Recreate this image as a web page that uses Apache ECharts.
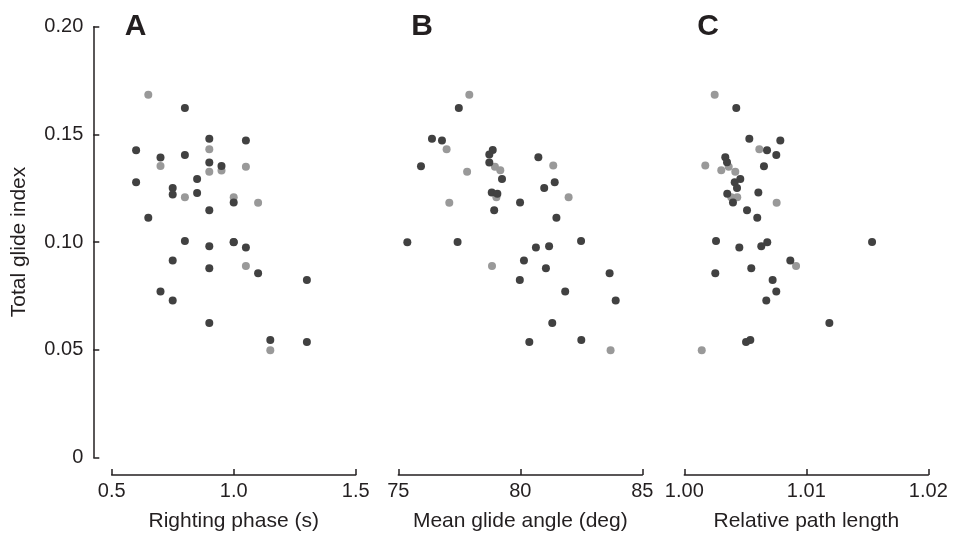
<!DOCTYPE html>
<html>
<head>
<meta charset="utf-8">
<script src="https://cdn.jsdelivr.net/npm/echarts@6/dist/echarts.min.js"></script>
<style>html,body{margin:0;padding:0;background:#fff}#c{width:955px;height:537px}</style>
</head>
<body>
<div id="c"></div>
<script>
// Panel A: Righting phase (s) vs Total glide index
const aDark = [[0.80,0.1622],[0.90,0.1480],[1.05,0.1471],[0.60,0.1426],[0.70,0.1392],[0.80,0.1404],[0.90,0.1369],[0.95,0.1353],[0.60,0.1278],[0.85,0.1293],[0.75,0.1251],[0.75,0.1221],[0.85,0.1228],[1.00,0.1184],[0.90,0.1148],[0.65,0.1113],[0.80,0.1005],[0.90,0.0980],[1.00,0.0999],[1.00,0.1000],[1.05,0.0974],[0.75,0.0914],[0.90,0.0878],[1.10,0.0855],[1.30,0.0824],[0.70,0.0770],[0.75,0.0728],[0.90,0.0624],[1.15,0.0545],[1.30,0.0536]];
const aGray = [[0.65,0.1684],[0.90,0.1431],[0.70,0.1353],[1.05,0.1349],[0.90,0.1326],[0.95,0.1332],[0.80,0.1208],[1.00,0.1208],[1.10,0.1182],[1.05,0.0889],[1.15,0.0497]];
// Panel B: Mean glide angle (deg)
const bDark = [[77.48,0.1622],[76.38,0.1480],[76.79,0.1471],[78.87,0.1427],[78.73,0.1406],[75.93,0.1352],[78.73,0.1369],[80.74,0.1394],[79.25,0.1293],[81.41,0.1278],[80.98,0.1251],[78.83,0.1230],[79.06,0.1224],[79.99,0.1184],[78.93,0.1148],[81.48,0.1113],[75.37,0.0999],[77.43,0.1000],[82.49,0.1005],[80.64,0.0974],[81.18,0.0980],[80.15,0.0914],[81.05,0.0878],[83.66,0.0855],[79.98,0.0824],[81.84,0.0770],[83.91,0.0728],[81.31,0.0624],[80.37,0.0536],[82.50,0.0545]];
const bGray = [[77.91,0.1684],[76.98,0.1431],[78.96,0.1349],[79.18,0.1333],[77.82,0.1326],[81.35,0.1355],[79.02,0.1208],[77.09,0.1182],[81.98,0.1208],[78.84,0.0889],[83.70,0.0497]];
// Panel C: Relative path length
const cDark = [[1.00426,0.1622],[1.00533,0.1480],[1.00787,0.1471],[1.00678,0.1426],[1.00754,0.1404],[1.00336,0.1394],[1.00350,0.1370],[1.00653,0.1352],[1.00459,0.1293],[1.00413,0.1278],[1.00432,0.1251],[1.00352,0.1224],[1.00607,0.1230],[1.00399,0.1184],[1.00514,0.1148],[1.00598,0.1113],[1.00260,0.1005],[1.01539,0.1000],[1.00680,0.0999],[1.00451,0.0974],[1.00631,0.0980],[1.00869,0.0914],[1.00549,0.0878],[1.00254,0.0855],[1.00724,0.0824],[1.00754,0.0770],[1.00672,0.0728],[1.01189,0.0624],[1.00506,0.0536],[1.00541,0.0545]];
const cGray = [[1.00249,0.1684],[1.00615,0.1431],[1.00172,0.1355],[1.00364,0.1349],[1.00303,0.1333],[1.00418,0.1326],[1.00385,0.1208],[1.00434,0.1208],[1.00757,0.1182],[1.00916,0.0889],[1.00143,0.0497]];

const panelLetters = ['A','B','C'];
const xNames = ['Righting phase (s)','Mean glide angle (deg)','Relative path length'];
const xMin = [0.5, 75, 1.00];
const xMax = [1.5, 85, 1.02];
const xInterval = [0.5, 5, 0.01];
const xDecimals = [1, 0, 2];
const yTicks = [0, 0.05, 0.10, 0.15, 0.20];
const yName = 'Total glide index';

const DARK = '#414141', GRAY = '#999999', INK = '#231f20';
const FONT = 'Liberation Sans, Arial, sans-serif';
const lefts = [111.7, 398.3, 684.3];
const TOP = 26.7, H = 431.6, W = 244;

const grids = lefts.map(l => ({left: l, top: TOP, width: W, height: H, containLabel: false}));
const xAxes = lefts.map((l, i) => ({
  type: 'value', gridIndex: i, min: xMin[i], max: xMax[i], interval: xInterval[i],
  offset: 17.7,
  name: xNames[i], nameLocation: 'middle', nameGap: 36,
  nameTextStyle: {color: INK, fontSize: 21, fontFamily: FONT},
  axisLine: {show: true, onZero: false, lineStyle: {color: INK, width: 1.5}},
  axisTick: {show: true, inside: true, length: 6, lineStyle: {color: INK, width: 1.5}},
  axisLabel: {color: INK, fontSize: 20, fontFamily: FONT, margin: 6,
    formatter: v => v.toFixed(xDecimals[i])},
  splitLine: {show: false}
}));
const yAxes = lefts.map((l, i) => ({
  type: 'value', gridIndex: i, min: yTicks[0], max: yTicks[yTicks.length-1], interval: 0.05,
  show: i === 0,
  offset: 18.4,
  name: i === 0 ? yName : '', nameLocation: 'middle', nameGap: 64,
  nameTextStyle: {color: INK, fontSize: 21, fontFamily: FONT},
  axisLine: {show: true, onZero: false, lineStyle: {color: INK, width: 1.5}},
  axisTick: {show: true, inside: true, length: 6, lineStyle: {color: INK, width: 1.5}},
  axisLabel: {color: INK, fontSize: 20, fontFamily: FONT, margin: 10,
    formatter: v => v === 0 ? '0' : v.toFixed(2)},
  splitLine: {show: false}
}));
const datasets = [[aDark, aGray], [bDark, bGray], [cDark, cGray]];
const series = [];
datasets.forEach((pair, i) => {
  series.push({type: 'scatter', xAxisIndex: i, yAxisIndex: i, data: pair[0], symbolSize: 8,
    itemStyle: {color: DARK, opacity: 1}, silent: true, z: 3});
  series.push({type: 'scatter', xAxisIndex: i, yAxisIndex: i, data: pair[1], symbolSize: 8,
    itemStyle: {color: GRAY, opacity: 1}, silent: true, z: 2});
});
const titles = panelLetters.map((t, i) => ({
  text: t, left: lefts[i] + 8, top: 7,
  textStyle: {fontSize: 30, fontWeight: 'bold', color: INK, fontFamily: FONT}
}));
const chart = echarts.init(document.getElementById('c'), null, {renderer: 'canvas'});
chart.setOption({
  animation: false,
  backgroundColor: '#fff',
  title: titles,
  grid: grids, xAxis: xAxes, yAxis: yAxes, series: series
});
</script>
</body>
</html>
